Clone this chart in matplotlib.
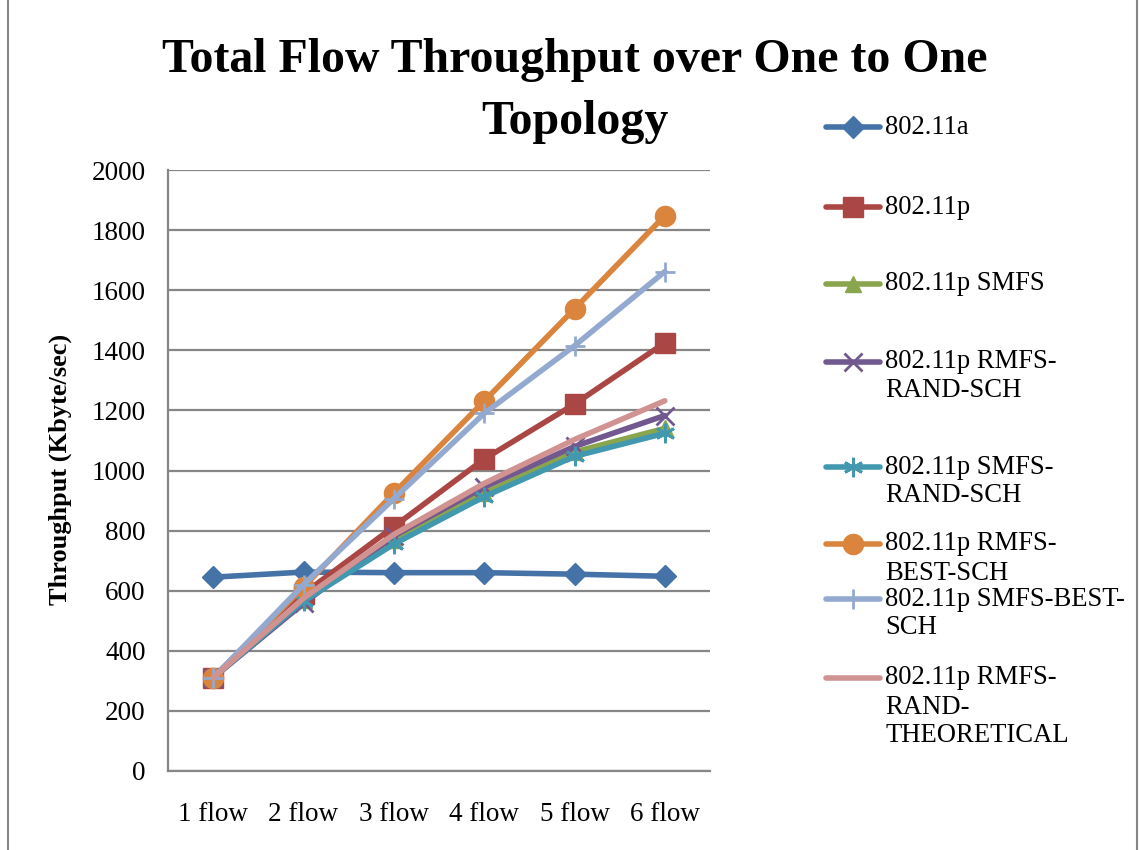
import matplotlib
matplotlib.use("Agg")
import matplotlib.pyplot as plt
from matplotlib.lines import Line2D
from matplotlib.patches import Rectangle

plt.rcParams["font.family"] = ["Liberation Serif", "DejaVu Serif"]

# ---- data ----
categories = ["1 flow", "2 flow", "3 flow", "4 flow", "5 flow", "6 flow"]

s_80211a = [645, 662, 660, 660, 655, 648]
s_80211p = [310, 590, 813, 1038, 1221, 1425]
s_smfs = [310, 570, 770, 925, 1062, 1140]
s_rmfs_rand_sch = [310, 558, 782, 945, 1080, 1183]
s_smfs_rand_sch = [310, 565, 755, 913, 1047, 1124]
s_rmfs_best_sch = [310, 612, 925, 1231, 1538, 1848]
s_smfs_best_sch = [310, 620, 906, 1190, 1415, 1662]
s_rmfs_rand_theo = [310, 575, 787, 957, 1103, 1232]

labels = [
    "802.11a",
    "802.11p",
    "802.11p SMFS",
    "802.11p RMFS-\nRAND-SCH",
    "802.11p SMFS-\nRAND-SCH",
    "802.11p RMFS-\nBEST-SCH",
    "802.11p SMFS-BEST-\nSCH",
    "802.11p RMFS-\nRAND-\nTHEORETICAL",
]
series = [s_80211a, s_80211p, s_smfs, s_rmfs_rand_sch, s_smfs_rand_sch,
          s_rmfs_best_sch, s_smfs_best_sch, s_rmfs_rand_theo]

# ---- styles ----
colors = ["#4572A7", "#AA4643", "#89A54E", "#71588F", "#4198AF",
          "#DB843D", "#93A9CF", "#D19392"]
markers = ["D", "s", "^", "x", (6, 2, 0), "o", "+", None]
msizes = [11, 15, 12, 13, 14, 14.5, 15, 0]
mews = [1, 1, 1, 2, 2, 1, 2, 1]
LW = 4.0

W, H = 1139, 850
fig = plt.figure(figsize=(W / 100, H / 100), dpi=100)

def fx(px):
    return px / W

def fy(py):
    return 1 - py / H

ax = fig.add_axes([fx(168), fy(771), fx(710) - fx(168), fy(170) - fy(771)])

x = list(range(len(categories)))
for vals, c, m, ms, mew in zip(series, colors, markers, msizes, mews):
    ax.plot(x, vals, color=c, lw=LW, marker=m, markersize=ms,
            markerfacecolor=c, markeredgecolor=c, markeredgewidth=mew,
            solid_capstyle="round", solid_joinstyle="round", clip_on=False)

ax.set_xlim(-0.5, len(categories) - 0.5)
ax.set_ylim(0, 2000)
ax.set_yticks(range(0, 2001, 200))
ax.set_xticks(x)
ax.set_xticklabels(categories)
ax.tick_params(axis="both", length=0, labelsize=19.5, colors="black")
ax.tick_params(axis="y", pad=16)
ax.tick_params(axis="x", pad=22)
ax.grid(axis="y", color="#868686", lw=1.6)
ax.set_axisbelow(True)
for side in ("top", "right"):
    ax.spines[side].set_visible(False)
for side in ("left", "bottom"):
    ax.spines[side].set_color("#868686")
    ax.spines[side].set_linewidth(1.6)

# ---- title and axis label ----
fig.text(fx(575), fy(72), "Total Flow Throughput over One to One",
         ha="center", va="baseline", fontsize=34.5, fontweight="bold")
fig.text(fx(575), fy(134), "Topology",
         ha="center", va="baseline", fontsize=34.5, fontweight="bold")
fig.text(fx(60), fy(469), "Throughput (Kbyte/sec)", rotation=90,
         ha="center", va="center", fontsize=19, fontweight="bold")

# ---- legend ----
entry_y = [127, 207, 284, 362, 467, 544, 599, 678]
line_gap = 29.0
for lab, yy, c, m, ms, mew in zip(labels, entry_y, colors, markers, msizes, mews):
    fig.add_artist(Line2D([fx(826), fx(880)], [fy(yy), fy(yy)],
                          transform=fig.transFigure, color=c, lw=LW,
                          solid_capstyle="round"))
    if m is not None:
        fig.add_artist(Line2D([fx(853)], [fy(yy)], transform=fig.transFigure,
                              color=c, marker=m, markersize=ms,
                              markerfacecolor=c, markeredgecolor=c,
                              markeredgewidth=mew, lw=0))
    for i, part in enumerate(lab.split("\n")):
        fig.text(fx(885), fy(yy + i * line_gap), part, ha="left",
                 va="center", fontsize=19.2)

# chart border
fig.add_artist(Rectangle((fx(8), -0.02), fx(1137) - fx(8), 1.04,
                         transform=fig.transFigure, fill=False,
                         ec="#868686", lw=1.5))

fig.savefig("out.png", dpi=100)
